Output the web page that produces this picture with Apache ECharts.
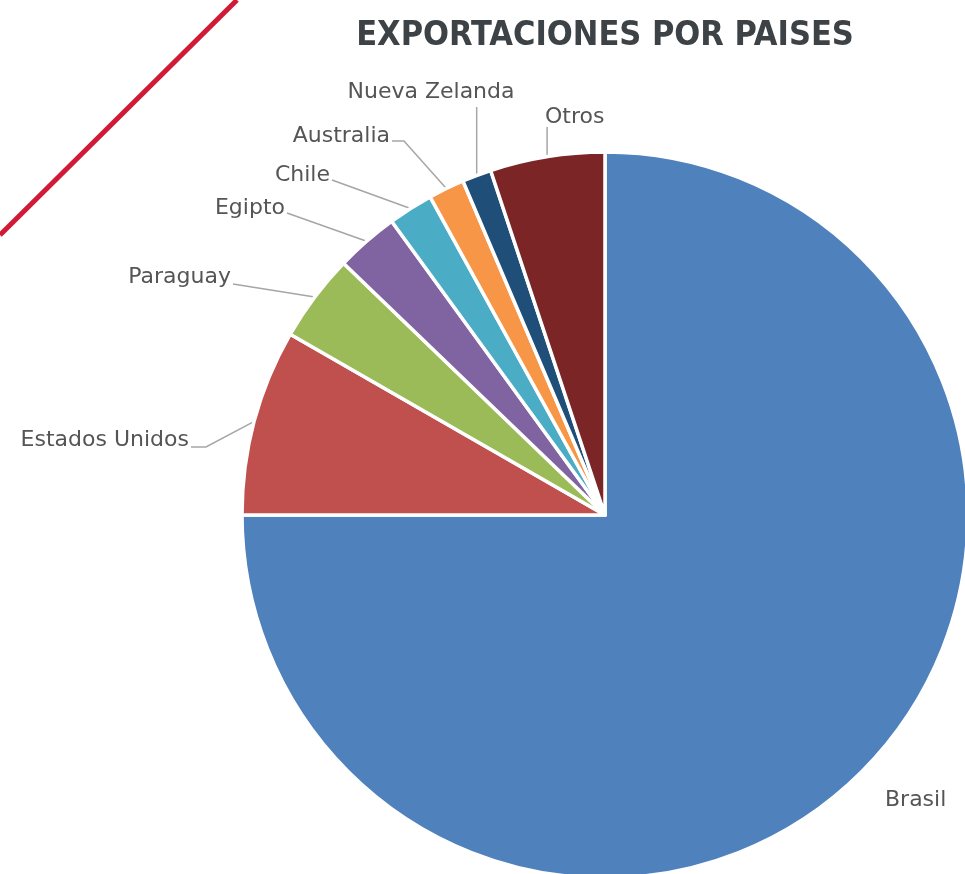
<!DOCTYPE html>
<html><head><meta charset="utf-8">
<script src="https://cdn.jsdelivr.net/npm/echarts@6/dist/echarts.min.js"></script>
<style>html,body{margin:0;padding:0;background:#fff}#c{width:965px;height:874px}</style>
</head><body><div id="c"></div>
<script>
const chartTitle = 'EXPORTACIONES POR PAISES';
const countries = ['Brasil', 'Estados Unidos', 'Paraguay', 'Egipto', 'Chile', 'Australia', 'Nueva Zelanda', 'Otros'];
const shares = [75.0, 8.3, 3.9, 2.8, 2.0, 1.6, 1.3, 5.1];
const sliceColors = ['#4f81bd', '#c0504d', '#9bbb59', '#8064a2', '#4bacc6', '#f79646', '#1f4e79', '#7b2527'];
// label text anchors and leader-line style (layout only)
const labelPlacement = [
  { x: 885, y: 800, align: 'left', line: 'none' },
  { x: 189, y: 440, align: 'right', line: 'elbow', gap: 7, elbow: 15 },
  { x: 231, y: 277, align: 'right', line: 'elbow', gap: 7, elbow: 0 },
  { x: 285, y: 208, align: 'right', line: 'elbow', gap: 5, elbow: 0 },
  { x: 330, y: 175, align: 'right', line: 'elbow', gap: 5, elbow: 0 },
  { x: 390, y: 136, align: 'right', line: 'elbow', gap: 5, elbow: 12 },
  { x: 431, y: 92, align: 'center', line: 'vertical', gap: 15 },
  { x: 545, y: 117, align: 'left', line: 'vertical', gap: 10 }
];

const chart = echarts.init(document.getElementById('c'));
const data = countries.map((name, i) => ({ name: name, value: shares[i] }));
chart.setOption({
  animation: false,
  backgroundColor: '#ffffff',
  color: sliceColors,
  title: {
    text: chartTitle,
    left: 600,
    textAlign: 'center',
    top: 14,
    textStyle: {
      fontFamily: "'DejaVu Sans Condensed', sans-serif",
      fontWeight: 'bold',
      fontSize: 34,
      color: '#3d4247'
    }
  },
  graphic: [{
    type: 'line',
    shape: { x1: 0, y1: 235, x2: 237, y2: 0 },
    style: { stroke: '#d01a36', lineWidth: 5 },
    silent: true
  }],
  series: [{
    type: 'pie',
    center: [605, 515],
    radius: 363,
    startAngle: 90,
    clockwise: true,
    avoidLabelOverlap: false,
    data: data,
    itemStyle: { borderColor: '#ffffff', borderWidth: 3.5 },
    label: {
      show: true,
      position: 'outside',
      fontFamily: 'DejaVu Sans',
      fontSize: 22,
      color: '#555555'
    },
    labelLine: {
      show: true,
      length: 12,
      length2: 12,
      lineStyle: { color: '#a6a6a6', width: 1.5 }
    },
    labelLayout: function (params) {
      const p = labelPlacement[params.dataIndex];
      const out = { x: p.x, y: p.y, align: p.align, verticalAlign: 'middle' };
      const lp = params.labelLinePoints;
      if (lp && lp.length) {
        const e = lp[0];
        let pts;
        if (p.line === 'none') {
          pts = [e, e, e];
        } else if (p.line === 'vertical') {
          const a = [e[0], p.y + p.gap];
          pts = [e, a, a];
        } else {
          const ax = p.align === 'right' ? p.x + 2 : p.x - 2;
          const ay = p.y + p.gap;
          pts = [e, [ax + (p.align === 'right' ? p.elbow : -p.elbow), ay], [ax, ay]];
        }
        out.labelLinePoints = pts;
      }
      return out;
    }
  }]
});
</script>
</body></html>
